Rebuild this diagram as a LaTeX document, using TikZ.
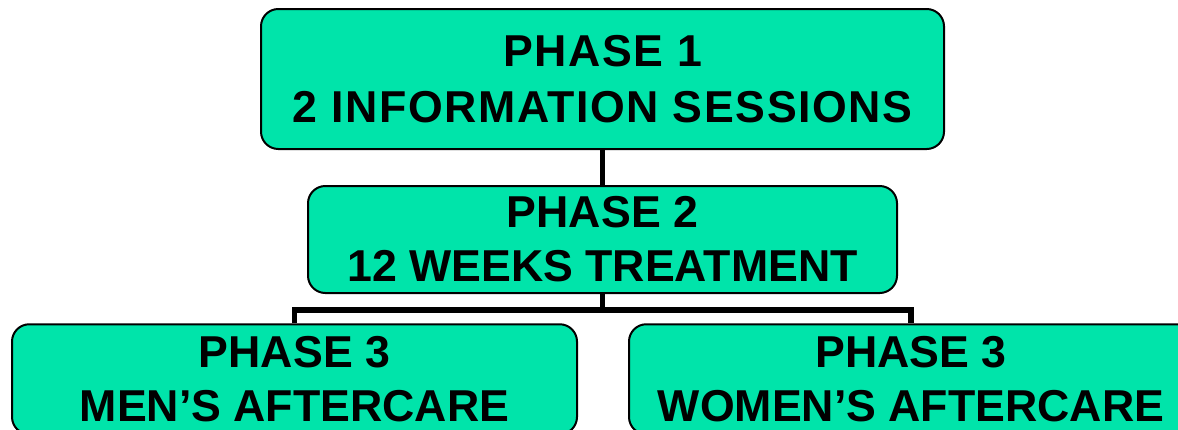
\documentclass[tikz,border=0pt]{standalone}
\usepackage{fontspec}
\setmainfont{Liberation Sans}
\newfontfamily\widefont[LetterSpace=3.5]{Liberation Sans}
\usetikzlibrary{positioning}
\definecolor{mint}{RGB}{0,228,170}
\tikzset{
  phase/.style={
    rectangle, draw=black, line width=1.5pt, fill=mint, rounded corners=13pt,
    align=center, inner sep=0pt,
    font=\bfseries\fontsize{33.5}{40.5}\selectfont
  },
  link/.style={line width=4.2pt}
}
\begin{document}
\begin{tikzpicture}[x=0.75pt, y=-0.75pt]
\useasboundingbox (0,0) rectangle (1178,429);
\clip (0,0) rectangle (1178,429);
\node[phase, font=\widefont\bfseries\fontsize{33.5}{41.5}\selectfont, minimum width=512.25pt, minimum height=105pt] (p1) at (602.5,79) {PHASE 1\\2 INFORMATION SESSIONS};
\node[phase, below=26.25pt of p1, minimum width=441.75pt, minimum height=80.25pt] (p2) {PHASE 2\\12 WEEKS TREATMENT};
\node[phase, minimum width=423.75pt, minimum height=82.5pt] (men) at (294.5,379.25) {PHASE 3\\MEN’S AFTERCARE};
\node[phase, right=37.5pt of men, minimum width=423pt, minimum height=82.5pt] (women) {PHASE 3\\WOMEN’S AFTERCARE};
\coordinate[below=12pt of p2.south] (fork);
% connectors
\draw[link] (p1) -- (p2);
\draw[link] (p2) -- (fork);
\draw[link] (men.north) |- (fork) -| (women.north);
\end{tikzpicture}
\end{document}
